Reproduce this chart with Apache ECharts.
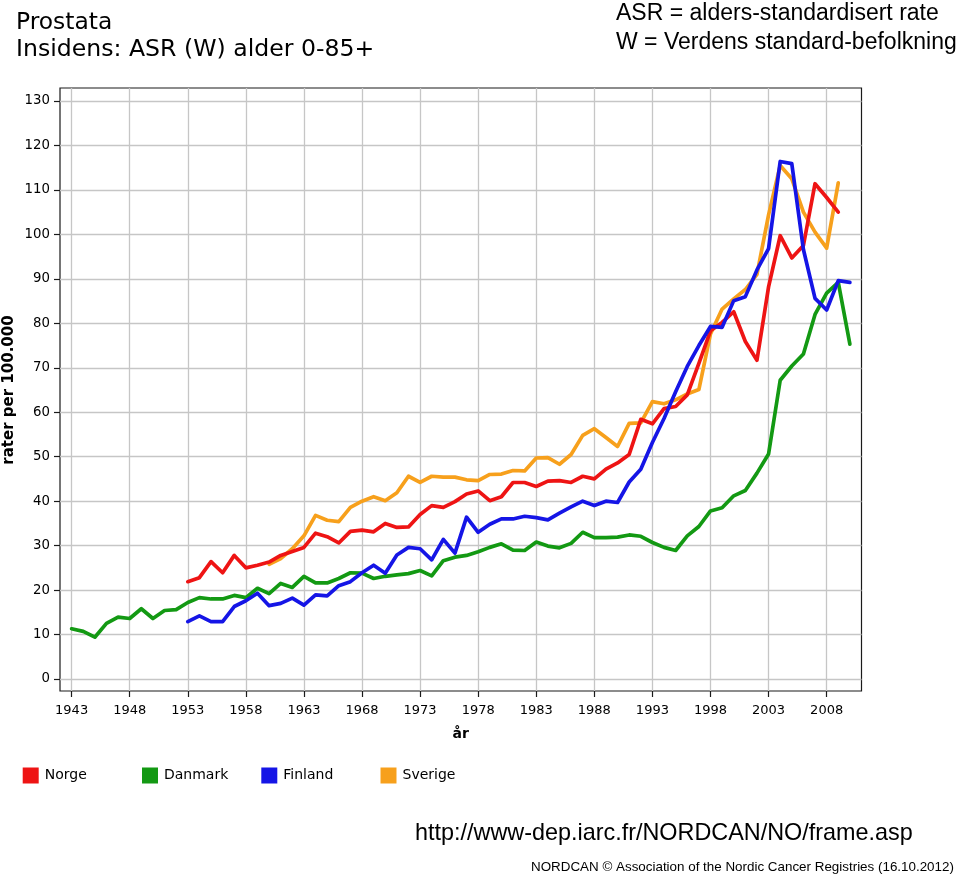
<!DOCTYPE html>
<html>
<head>
<meta charset="utf-8">
<script src="https://cdn.jsdelivr.net/npm/echarts@6/dist/echarts.min.js"></script>
<style>
html,body{margin:0;padding:0;background:#fff;}
#chart{width:960px;height:877px;}
</style>
</head>
<body>
<div id="chart"></div>
<script>
// ---- data ----
const categories = ['1942','1943','1944','1945','1946','1947','1948','1949','1950','1951',
  '1952','1953','1954','1955','1956','1957','1958','1959','1960','1961',
  '1962','1963','1964','1965','1966','1967','1968','1969','1970','1971',
  '1972','1973','1974','1975','1976','1977','1978','1979','1980','1981',
  '1982','1983','1984','1985','1986','1987','1988','1989','1990','1991',
  '1992','1993','1994','1995','1996','1997','1998','1999','2000','2001',
  '2002','2003','2004','2005','2006','2007','2008','2009','2010','2011'];
const xTickLabels = ['1943','1948','1953','1958','1963','1968','1973','1978','1983','1988','1993','1998','2003','2008'];
const yTicks = [0,10,20,30,40,50,60,70,80,90,100,110,120,130];
const seriesNames = ['Norge','Danmark','Finland','Sverige'];

const norgeStart = 1953;
const norge = [21.9,22.8,26.4,23.9,27.8,25.0,25.6,26.3,27.8,28.7,
  29.6,32.8,32.0,30.6,33.2,33.5,33.1,35.0,34.1,34.2,
  37.0,39.0,38.6,39.9,41.6,42.3,40.1,41.0,44.2,44.2,
  43.3,44.5,44.6,44.2,45.6,45.0,47.2,48.6,50.5,58.4,
  57.4,60.8,61.3,63.9,71.0,78.3,80.2,82.6,75.9,71.7,
  88.2,99.7,94.7,97.5,111.4,108.3,105.0];

const danmarkStart = 1943;
const danmark = [11.3,10.7,9.4,12.5,13.9,13.6,15.8,13.6,15.4,15.6,
  17.2,18.3,18.0,18.0,18.8,18.3,20.4,19.2,21.5,20.6,
  23.1,21.6,21.6,22.6,23.9,23.8,22.6,23.1,23.4,23.7,
  24.4,23.2,26.6,27.4,27.8,28.6,29.6,30.4,29.0,28.9,
  30.8,29.9,29.5,30.5,33.0,31.8,31.8,31.9,32.4,32.1,
  30.7,29.6,28.9,32.2,34.3,37.8,38.5,41.2,42.4,46.3,
  50.6,67.2,70.4,73.1,82.0,86.8,89.2,75.3];

const finlandStart = 1953;
const finland = [12.9,14.2,12.9,12.9,16.3,17.6,19.3,16.5,17.0,18.2,
  16.6,18.9,18.7,21.0,21.9,23.9,25.6,23.8,27.9,29.6,
  29.3,26.8,31.4,28.3,36.4,33.0,34.8,36.0,36.0,36.6,
  36.3,35.8,37.3,38.7,40.0,39.0,40.0,39.7,44.3,47.2,
  53.2,58.6,64.6,70.3,75.0,79.3,79.1,85.1,86.0,92.0,
  96.8,116.4,115.9,96.6,85.6,83.0,89.6,89.2];

const sverigeStart = 1960;
const sverige = [25.8,27.1,29.3,32.2,36.8,35.7,35.4,38.6,40.0,41.0,
  40.1,41.9,45.6,44.2,45.6,45.4,45.4,44.8,44.6,46.0,
  46.1,46.9,46.8,49.7,49.8,48.3,50.5,54.8,56.3,54.3,
  52.3,57.5,57.6,62.4,61.9,62.8,64.1,65.1,77.6,83.2,
  85.5,87.6,91.0,104.4,115.5,112.5,105.0,100.5,96.9,111.6];

function toPairs(start, arr) {
  return arr.map(function (v, i) { return [String(start + i), v]; });
}

const FONT = 'DejaVu Sans';
const GRIDLINE = '#c6c6c6';
const isTick = function (index, value) { return xTickLabels.indexOf(String(value)) >= 0; };

const chart = echarts.init(document.getElementById('chart'), null, {renderer: 'canvas'});

const lineSeries = function (name, color, start, arr, z) {
  return {
    name: name, type: 'line', xAxisIndex: 1, yAxisIndex: 1,
    data: toPairs(start, arr),
    showSymbol: false, symbol: 'none', smooth: false,
    lineStyle: {color: color, width: 3.7, join: 'round', cap: 'round'},
    itemStyle: {color: color},
    z: z, emphasis: {disabled: true}
  };
};

const legendLefts = [22.7, 142, 261.3, 380.5];
const legends = seriesNames.map(function (n, i) {
  return {
    data: [n], left: legendLefts[i], top: 767.5, padding: 0,
    icon: 'rect', itemWidth: 16, itemHeight: 16, itemGap: 0,
    selectedMode: false,
    textStyle: {fontFamily: FONT, fontSize: 14, color: '#000', padding: [0, 0, 0, 1]}
  };
});

chart.setOption({
  animation: false,
  backgroundColor: '#fff',
  title: [
    {text: 'Prostata', left: 11, top: 5, textStyle: {fontFamily: FONT, fontSize: 23.4, fontWeight: 'normal', color: '#000', lineHeight: 26}},
    {text: 'Insidens: ASR (W) alder 0-85+', left: 11, top: 32, textStyle: {fontFamily: FONT, fontSize: 23.6, fontWeight: 'normal', color: '#000', lineHeight: 26}},
    {text: 'ASR = alders-standardisert rate', left: 611, top: -4.5, textStyle: {fontFamily: 'Liberation Sans', fontSize: 23, fontWeight: 'normal', color: '#000', lineHeight: 26}},
    {text: 'W = Verdens standard-befolkning', left: 611, top: 24.5, textStyle: {fontFamily: 'Liberation Sans', fontSize: 23, fontWeight: 'normal', color: '#000', lineHeight: 26}},
    {text: 'http://www-dep.iarc.fr/NORDCAN/NO/frame.asp', left: 410, top: 816, textStyle: {fontFamily: 'Liberation Sans', fontSize: 23.4, fontWeight: 'normal', color: '#000', lineHeight: 26}},
    {text: 'NORDCAN \u00a9 Association of the Nordic Cancer Registries (16.10.2012)', left: 526, top: 854, textStyle: {fontFamily: 'Liberation Sans', fontSize: 13.4, fontWeight: 'normal', color: '#000', lineHeight: 16}}
  ],
  legend: legends,
  grid: [
    {left: 60, right: 98.5, top: 88, bottom: 186, show: true, borderColor: '#1a1a1a', borderWidth: 1.2, backgroundColor: 'transparent', containLabel: false, outerBoundsMode: 'none'},
    {left: 60, right: 98.5, top: 101, bottom: 198, containLabel: false, outerBoundsMode: 'none'}
  ],
  xAxis: [
    {
      type: 'category', gridIndex: 0, data: categories, boundaryGap: false,
      axisLine: {show: false},
      axisTick: {show: true, interval: isTick, length: 6, lineStyle: {color: '#1a1a1a', width: 1.2}},
      axisLabel: {show: true, interval: isTick, margin: 13, fontFamily: FONT, fontSize: 13, color: '#000'},
      splitLine: {show: true, interval: isTick, lineStyle: {color: GRIDLINE, width: 1.3}},
      name: '\u00e5r', nameLocation: 'middle', nameGap: 36,
      nameTextStyle: {fontFamily: FONT, fontSize: 14, fontWeight: 'bold', color: '#000'}
    },
    {
      type: 'category', gridIndex: 1, data: categories, boundaryGap: false, show: false
    }
  ],
  yAxis: [
    {type: 'value', gridIndex: 0, min: 0, max: 1, show: false},
    {
      type: 'value', gridIndex: 1, min: yTicks[0], max: yTicks[yTicks.length - 1], interval: 10,
      axisLine: {show: false},
      axisTick: {show: true, length: 6, lineStyle: {color: '#1a1a1a', width: 1.2}},
      axisLabel: {margin: 10, fontFamily: FONT, fontSize: 13.3, color: '#000'},
      splitLine: {show: true, lineStyle: {color: GRIDLINE, width: 1.3}},
      name: 'rater per 100.000', nameLocation: 'middle', nameRotate: 90, nameGap: 43,
      nameMoveOverlap: false,
      nameTextStyle: {fontFamily: FONT, fontSize: 15, fontWeight: 'bold', color: '#000'}
    }
  ],
  series: [
    lineSeries('Sverige', '#f7a01c', sverigeStart, sverige, 2),
    lineSeries('Norge', '#ee1414', norgeStart, norge, 3),
    lineSeries('Danmark', '#139913', danmarkStart, danmark, 4),
    lineSeries('Finland', '#1515e6', finlandStart, finland, 5)
  ]
});
</script>
</body>
</html>
